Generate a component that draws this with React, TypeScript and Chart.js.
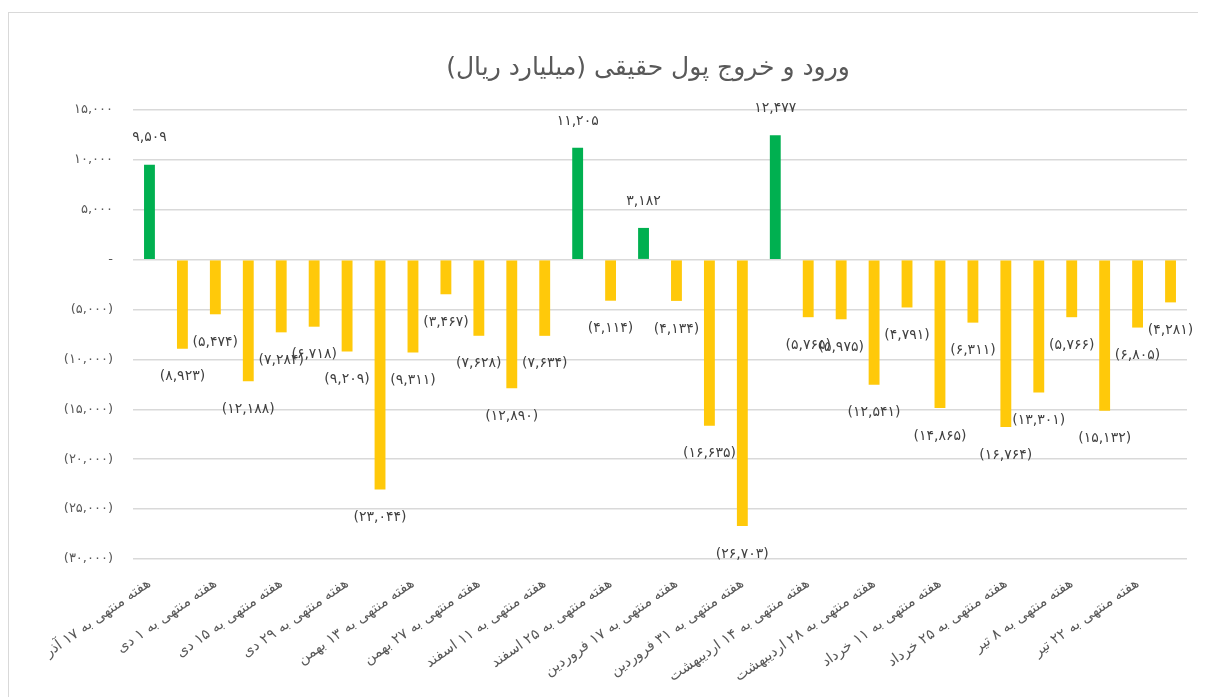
import React, { useEffect, useRef } from "react";
import { Chart, registerables } from "chart.js";

Chart.register(...registerables);

const TITLE = "ورود و خروج پول حقیقی (میلیارد ریال)";

const categories = [
  "هفته منتهی به ۱۷ آذر",
  "هفته منتهی به ۲۴ آذر",
  "هفته منتهی به ۱ دی",
  "هفته منتهی به ۸ دی",
  "هفته منتهی به ۱۵ دی",
  "هفته منتهی به ۲۲ دی",
  "هفته منتهی به ۲۹ دی",
  "هفته منتهی به ۶ بهمن",
  "هفته منتهی به ۱۳ بهمن",
  "هفته منتهی به ۲۰ بهمن",
  "هفته منتهی به ۲۷ بهمن",
  "هفته منتهی به ۴ اسفند",
  "هفته منتهی به ۱۱ اسفند",
  "هفته منتهی به ۱۸ اسفند",
  "هفته منتهی به ۲۵ اسفند",
  "هفته منتهی به ۱۰ فروردین",
  "هفته منتهی به ۱۷ فروردین",
  "هفته منتهی به ۲۴ فروردین",
  "هفته منتهی به ۳۱ فروردین",
  "هفته منتهی به ۷ اردیبهشت",
  "هفته منتهی به ۱۴ اردیبهشت",
  "هفته منتهی به ۲۱ اردیبهشت",
  "هفته منتهی به ۲۸ اردیبهشت",
  "هفته منتهی به ۴ خرداد",
  "هفته منتهی به ۱۱ خرداد",
  "هفته منتهی به ۱۸ خرداد",
  "هفته منتهی به ۲۵ خرداد",
  "هفته منتهی به ۱ تیر",
  "هفته منتهی به ۸ تیر",
  "هفته منتهی به ۱۵ تیر",
  "هفته منتهی به ۲۲ تیر",
  "هفته منتهی به ۲۹ تیر",
];

const netFlow = [
  9509, -8923, -5474, -12188, -7284, -6718, -9209, -23044, -9311, -3467,
  -7628, -12890, -7634, 11205, -4114, 3182, -4134, -16635, -26703, 12477,
  -5765, -5975, -12541, -4791, -14865, -6311, -16764, -13301, -5766, -15132,
  -6805, -4281,
];

const yMin = -30000;
const yMax = 15000;
const yStep = 5000;

const GREEN = "#00B050";
const GOLD = "#FFC90A";
const FONT = "'DejaVu Sans', sans-serif";

const FA = "۰۱۲۳۴۵۶۷۸۹";
function toFa(n: number): string {
  const s = Math.round(Math.abs(n)).toString().replace(/\B(?=(\d{3})+(?!\d))/g, ",");
  return s.replace(/\d/g, (d) => FA[+d]);
}
function fmt(v: number): string {
  if (v === 0) return "-";
  return v < 0 ? `(${toFa(v)})` : toFa(v);
}

const CANVAS_W = 1220;
const CANVAS_H = 684;
const AREA_LEFT = 124;
const AREA_RIGHT = 1178;
const AREA_TOP = 97;
const AREA_BOTTOM = 546;

export default function App() {
  const ref = useRef<HTMLCanvasElement | null>(null);

  useEffect(() => {
    document.documentElement.style.overflow = "hidden";
    const canvas = ref.current;
    if (!canvas) return;

    const titlePlugin = {
      id: "customTitle",
      afterDraw(chart: any) {
        const ctx = chart.ctx;
        ctx.save();
        ctx.font = `25px ${FONT}`;
        ctx.fillStyle = "#595959";
        ctx.textAlign = "center";
        ctx.textBaseline = "middle";
        (ctx as any).direction = "rtl";
        ctx.fillText(TITLE, 639, 55);
        ctx.restore();
      },
    };

    const labelPlugin = {
      id: "barLabels",
      afterDatasetsDraw(chart: any) {
        const ctx = chart.ctx;
        const meta = chart.getDatasetMeta(0);
        const data = chart.data.datasets[0].data as number[];
        ctx.save();
        ctx.font = `14px ${FONT}`;
        ctx.fillStyle = "#404040";
        ctx.textAlign = "center";
        ctx.textBaseline = "middle";
        meta.data.forEach((el: any, i: number) => {
          const v = data[i];
          const y = v >= 0 ? el.y - 27 : el.y + 28;
          ctx.fillText(fmt(v), el.x, y);
        });
        ctx.restore();
      },
    };

    const chart = new Chart(canvas, {
      type: "bar",
      data: {
        labels: categories,
        datasets: [
          {
            data: netFlow,
            backgroundColor: netFlow.map((v) => (v >= 0 ? GREEN : GOLD)),
            barPercentage: 0.66,
            categoryPercentage: 0.5,
          },
        ],
      },
      options: {
        animation: false,
        responsive: false,
        maintainAspectRatio: false,
        layout: { padding: { top: AREA_TOP, right: CANVAS_W - AREA_RIGHT, left: 0, bottom: 0 } },
        plugins: {
          legend: { display: false },
          title: { display: false },
          tooltip: { enabled: false },
        },
        scales: {
          x: {
            grid: { display: false, drawTicks: false },
            border: { display: false },
            ticks: {
              autoSkip: false,
              minRotation: 35,
              maxRotation: 35,
              padding: 16,
              color: "#595959",
              font: { family: FONT, size: 14.5 },
              callback: (_v: any, i: number) => (i % 2 === 0 ? categories[i] : ""),
            },
            afterFit: (s: any) => {
              s.height = CANVAS_H - AREA_BOTTOM;
            },
          },
          y: {
            min: yMin,
            max: yMax,
            grid: { color: "#d9d9d9", lineWidth: 1.5, drawTicks: false },
            border: { display: false },
            ticks: {
              stepSize: yStep,
              padding: 20,
              color: "#595959",
              font: { family: FONT, size: 13 },
              callback: (v: any) => fmt(Number(v)),
            },
            afterFit: (s: any) => {
              s.width = AREA_LEFT;
            },
          },
        },
      },
      plugins: [titlePlugin, labelPlugin],
    });

    return () => chart.destroy();
  }, []);

  return (
    <div
      style={{
        position: "relative",
        height: 700,
        marginTop: 4,
        marginRight: -8,
        borderTop: "1.5px solid #d9d9d9",
        borderLeft: "1.5px solid #d9d9d9",
        boxSizing: "border-box",
        background: "#fff",
        overflow: "hidden",
      }}
    >
      <canvas
        ref={ref}
        width={CANVAS_W}
        height={CANVAS_H}
        style={{ display: "block", width: CANVAS_W, height: CANVAS_H }}
      />
    </div>
  );
}
